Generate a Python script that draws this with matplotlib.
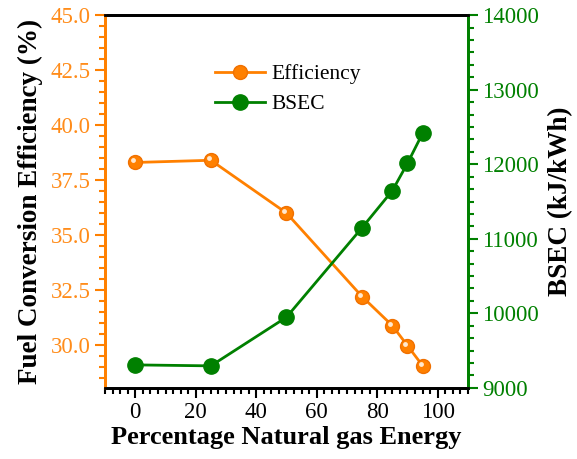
import numpy as np
import matplotlib.pyplot as plt
from matplotlib.ticker import MultipleLocator, AutoMinorLocator
import matplotlib.transforms as mtransforms

plt.rcParams['font.family'] = ['Liberation Serif', 'DejaVu Serif']

ng_share = [0, 25, 50, 75, 85, 90, 95]
efficiency = [38.3, 38.4, 36.0, 32.2, 30.88, 29.97, 29.06]
bsec = [9308, 9295, 9948, 11149, 11645, 12012, 12414]

orange = '#FF8000'
orange_txt = '#FF8C1A'
green = '#008000'

fig = plt.figure(figsize=(5.77, 4.59), dpi=100)
ax1 = fig.add_axes([0.182, 0.155, 0.629, 0.812])
ax2 = ax1.twinx()

l1, = ax1.plot(ng_share, efficiency, color=orange, lw=2, marker='o', ms=10,
               mfc=orange, mec='#F07000', label='Efficiency', zorder=3)
# little highlight on the orange balls
shift = mtransforms.ScaledTranslation(-2/100, 2/100, fig.dpi_scale_trans)
ax1.plot(ng_share, efficiency, ls='none', marker='o', ms=3.5, mfc='#FFE8D0',
         mec='none', transform=ax1.transData + shift, zorder=4)

l2, = ax2.plot(ng_share, bsec, color=green, lw=2, marker='o', ms=11,
               mfc=green, mec=green, label='BSEC', zorder=3)

ax1.set_xlim(-10, 110)
ax1.set_ylim(28.05, 45)
ax2.set_ylim(9000, 14000)

ax1.xaxis.set_major_locator(MultipleLocator(20))
ax1.xaxis.set_minor_locator(AutoMinorLocator(8))
ax1.yaxis.set_major_locator(MultipleLocator(2.5))
ax1.yaxis.set_minor_locator(AutoMinorLocator(5))
ax2.yaxis.set_major_locator(MultipleLocator(1000))
ax2.yaxis.set_minor_locator(AutoMinorLocator(6))
ax1.yaxis.set_major_formatter(plt.FormatStrFormatter('%.1f'))

ax1.tick_params(axis='x', which='both', direction='out', top=False, labelsize=16.5, width=1.5)
ax1.tick_params(axis='x', which='major', length=7)
ax1.tick_params(axis='x', which='minor', length=4)
ax1.tick_params(axis='y', which='both', colors=orange, labelcolor=orange_txt, labelsize=16.5, width=1.5)
ax1.tick_params(axis='y', which='major', length=7)
ax1.tick_params(axis='y', which='minor', length=4)
ax2.tick_params(axis='y', which='both', colors=green, labelcolor=green, labelsize=16.5, width=1.5)
ax2.tick_params(axis='y', which='major', length=7)
ax2.tick_params(axis='y', which='minor', length=4)

for ax in (ax1, ax2):
    for s in ax.spines.values():
        s.set_linewidth(2)
ax2.spines['left'].set_color(orange)
ax2.spines['right'].set_color(green)
ax1.spines['left'].set_color(orange)
ax1.spines['right'].set_color(green)

ax1.set_xlabel('Percentage Natural gas Energy', fontsize=19, fontweight='bold', labelpad=2)
ax1.set_ylabel('Fuel Conversion Efficiency (%)', fontsize=19.5, fontweight='bold', labelpad=5)
ax2.set_ylabel('BSEC (kJ/kWh)', fontsize=19.5, fontweight='bold', labelpad=6)

ax1.legend(handles=[l1, l2], loc='upper left', bbox_to_anchor=(0.25, 0.92),
           frameon=False, fontsize=15.5, handlelength=2.3, handletextpad=0.3,
           labelspacing=0.45)

fig.savefig('out.png', dpi=100)
